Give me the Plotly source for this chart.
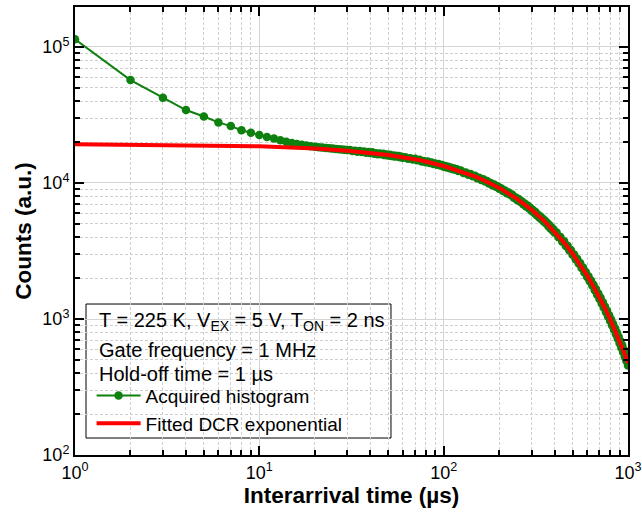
import plotly.graph_objects as go

# ---- data ----
hist_x = (list(range(1, 61)) + list(range(62, 121, 2)) + list(range(124, 201, 4))
          + list(range(205, 401, 5)) + list(range(410, 1001, 10)))
hist_y = [114000, 57100, 42400, 34400, 30800, 27900, 26200, 24400, 23400, 22520,
          21770, 21270, 20590, 20120, 19700, 19350, 19120, 18890, 18660, 18440,
          18316, 18200, 18094, 17989, 17894, 17799, 17704, 17620, 17535, 17451,
          17480, 17170, 17280, 16990, 17190, 16910, 17070, 16710, 16870, 16590,
          16800, 16440, 16570, 16280, 16490, 16260, 16380, 16030, 16190, 15950,
          16130, 15780, 15920, 15630, 15870, 15630, 15780, 15440, 15600, 15340,
          # 62..120 step 2
          15490, 15070, 15210, 14870, 15060, 14680, 14790, 14400, 14520, 14210,
          14410, 14050, 14170, 13770, 13930, 13610, 13780, 13460, 13570, 13180,
          13320, 13000, 13190, 12830, 12920, 12600, 12790, 12500, 12600, 12240,
          # 124..200 step 4
          12340, 11860, 11950, 11520, 11650, 11230, 11290, 10840, 10910, 10530,
          10670, 10260, 10330, 9920, 10010, 9640, 9750, 9390, 9460, 9070,
          # 205..400 step 5
          9150, 8730, 8800, 8400, 8520, 8150, 8220, 7800, 7860, 7510,
          7640, 7270, 7350, 6970, 7060, 6720, 6840, 6520, 6580, 6230,
          6330, 6010, 6110, 5790, 5850, 5580, 5680, 5380, 5460, 5180,
          5270, 5030, 5080, 4810, 4890, 4630, 4700, 4470, 4550, 4310,
          # 410..1000 step 10
          4320, 3990, 4000, 3700, 3725, 3440, 3455, 3200, 3210, 2970,
          2980, 2750, 2770, 2560, 2580, 2370, 2390, 2200, 2220, 2040,
          2065, 1895, 1915, 1760, 1785, 1630, 1660, 1510, 1540, 1405,
          1430, 1300, 1330, 1210, 1235, 1120, 1150, 1040, 1065, 967,
          990, 896, 922, 832, 857, 771, 796, 715, 740, 663,
          688, 615, 640, 571, 595, 529, 553, 491, 514, 455]

fit_x = [1, 10, 20, 30, 50, 75, 100, 125, 150, 175, 200, 250, 300, 350, 400, 450, 500,
         550, 600, 650, 700, 750, 800, 850, 900, 950, 1000]
fit_y = [19229, 18598, 17922, 17271, 16037, 14680, 13326, 12148, 11073, 10094, 9201,
         7646, 6353, 5279, 4387, 3645, 3029, 2517, 2092, 1738, 1444, 1200, 997,
         829, 688, 572, 475]

x_tick_vals = [1, 10, 100, 1000]
x_tick_text = ["10<sup>0</sup>", "10<sup>1</sup>", "10<sup>2</sup>", "10<sup>3</sup>"]
y_tick_vals = [100, 1000, 10000, 100000]
y_tick_text = ["10<sup>2</sup>", "10<sup>3</sup>", "10<sup>4</sup>", "10<sup>5</sup>"]

info_lines = ["T = 225 K, V<sub>EX</sub> = 5 V, T<sub>ON</sub> = 2 ns",
              "Gate frequency = 1 MHz",
              "Hold-off time = 1 µs"]

GREEN = "#0e800e"
RED = "#ff0000"
FONT = "Liberation Sans, Arial, sans-serif"

fig = go.Figure()
fig.add_trace(go.Scatter(x=hist_x, y=hist_y, mode="lines+markers",
                         name="Acquired histogram",
                         line=dict(color=GREEN, width=2),
                         marker=dict(color=GREEN, size=8.5)))
fig.add_trace(go.Scatter(x=fit_x, y=fit_y, mode="lines",
                         name="Fitted DCR exponential",
                         line=dict(color=RED, width=4)))

minor_vals = [m * 10 ** d for d in range(0, 6) for m in range(2, 10)]

axis_common = dict(
    type="log", showline=True, linecolor="black", linewidth=2, mirror="allticks",
    ticks="inside", ticklen=9, tickwidth=2, tickcolor="black",
    showgrid=True, gridcolor="#d4d4d4", gridwidth=1,
    tickfont=dict(family=FONT, size=18, color="black"),
    zeroline=False, automargin=False,
    minor=dict(tickvals=minor_vals, ticks="inside", ticklen=5, tickwidth=1.5,
               tickcolor="black", showgrid=True, gridcolor="#cfcfcf",
               griddash="3px,2px", gridwidth=1),
)

fig.update_xaxes(**axis_common, range=[0, 3], tickmode="array",
                 tickvals=x_tick_vals, ticktext=x_tick_text,
                 title=dict(text="<b>Interarrival time (µs)</b>",
                            font=dict(family=FONT, size=22.5, color="black"), standoff=5))
fig.update_yaxes(**axis_common, range=[2, 5.294], tickmode="array",
                 tickvals=y_tick_vals, ticktext=y_tick_text,
                 title=dict(text="<b>Counts (a.u.)</b>",
                            font=dict(family=FONT, size=22.5, color="black"), standoff=4))

# legend box
fig.add_shape(type="rect", xref="paper", yref="paper", x0=0.0199, x1=0.5714,
              y0=0.0379, y1=0.337, line=dict(color="black", width=1),
              fillcolor="white", layer="between")

ys = [0.299, 0.2337, 0.1808]
for txt, yy in zip(info_lines, ys):
    fig.add_annotation(text=txt, xref="paper", yref="paper", x=0.039, y=yy,
                       xanchor="left", yanchor="middle", showarrow=False,
                       font=dict(family=FONT, size=20, color="black"))

fig.update_layout(
    width=642, height=522,
    margin=dict(l=75, r=14, t=7, b=67),
    paper_bgcolor="white", plot_bgcolor="white",
    showlegend=True,
    legend=dict(x=0.03, y=0.175, xanchor="left", yanchor="top",
                bgcolor="rgba(0,0,0,0)", borderwidth=0,
                font=dict(family=FONT, size=19, color="black"),
                itemwidth=44, tracegroupgap=0),
)

fig.write_html("out.html")
